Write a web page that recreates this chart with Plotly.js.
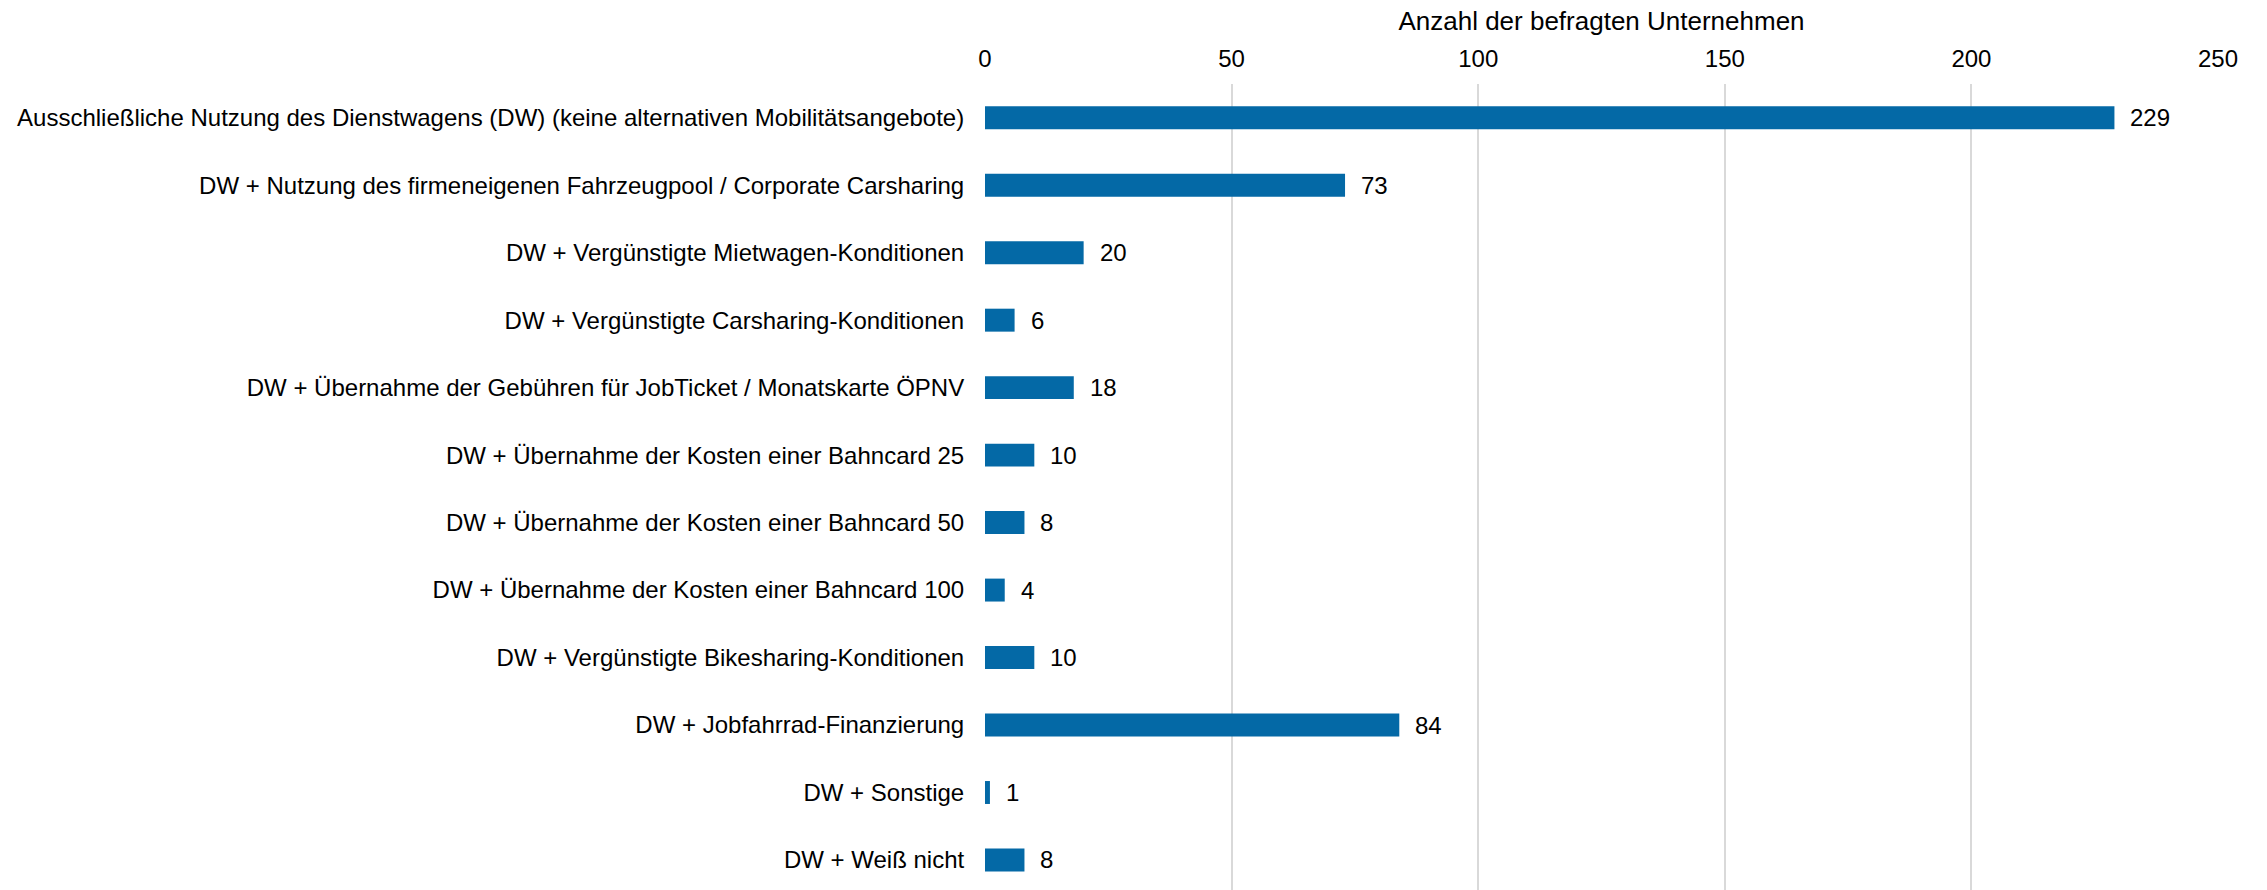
<!DOCTYPE html>
<html>
<head>
<meta charset="utf-8">
<script src="https://cdn.plot.ly/plotly-3.0.1.min.js"></script>
<style>html,body{margin:0;padding:0;background:#fff;}#chart{width:2267px;height:890px;}</style>
</head>
<body>
<div id="chart"></div>
<script>
const categories = [
  "Ausschließliche Nutzung des Dienstwagens (DW) (keine alternativen Mobilitätsangebote)",
  "DW + Nutzung des firmeneigenen Fahrzeugpool / Corporate Carsharing",
  "DW + Vergünstigte Mietwagen-Konditionen",
  "DW + Vergünstigte Carsharing-Konditionen",
  "DW + Übernahme der Gebühren für JobTicket / Monatskarte ÖPNV",
  "DW + Übernahme der Kosten einer Bahncard 25",
  "DW + Übernahme der Kosten einer Bahncard 50",
  "DW + Übernahme der Kosten einer Bahncard 100",
  "DW + Vergünstigte Bikesharing-Konditionen",
  "DW + Jobfahrrad-Finanzierung",
  "DW + Sonstige",
  "DW + Weiß nicht"
];
const values = [229, 73, 20, 6, 18, 10, 8, 4, 10, 84, 1, 8];
const xTickValues = [0, 50, 100, 150, 200, 250];
const xTitle = "Anzahl der befragten Unternehmen";

const font = {family: "Liberation Sans, Arial, sans-serif", size: 24, color: "#000"};
const titleFont = {family: "Liberation Sans, Arial, sans-serif", size: 26, color: "#000"};

const trace = {
  type: "bar",
  orientation: "h",
  x: values,
  y: categories,
  marker: {color: "#0469a6", line: {width: 0}},
  width: 0.34,
  hoverinfo: "x+y"
};

const annotations = values.map((v, i) => ({
  x: v, y: categories[i], xref: "x", yref: "y",
  text: String(v), showarrow: false, xanchor: "left", xshift: 14,
  font: font
}));

const layout = {
  width: 2267, height: 890,
  margin: {l: 985, r: 49, t: 84, b: 0, pad: 0},
  paper_bgcolor: "#fff", plot_bgcolor: "#fff",
  font: font,
  showlegend: false,
  xaxis: {
    side: "top",
    range: [0, 250],
    tickvals: xTickValues,
    ticktext: xTickValues.map(String),
    showgrid: true, gridcolor: "#d9d9d9", gridwidth: 2,
    zeroline: false, showline: false,
    ticks: "outside", ticklen: 6, tickcolor: "rgba(0,0,0,0)",
    tickfont: font,
    title: {text: xTitle, font: titleFont, standoff: 7}
  },
  yaxis: {
    type: "category",
    categoryorder: "array", categoryarray: categories,
    range: [11.445, -0.5],
    showgrid: false, zeroline: false, showline: false,
    ticks: "outside", ticklen: 15, tickcolor: "rgba(0,0,0,0)",
    tickfont: font
  },
  annotations: annotations
};

Plotly.newPlot("chart", [trace], layout, {displayModeBar: false, staticPlot: true});
</script>
</body>
</html>
